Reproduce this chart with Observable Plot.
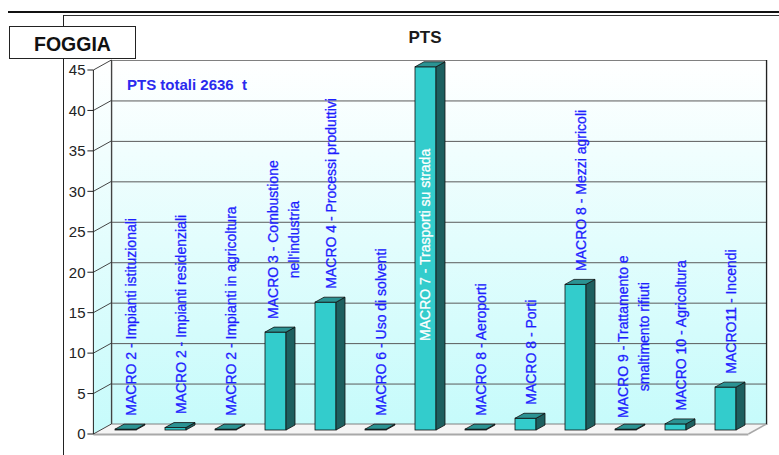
<!DOCTYPE html>
<html><head><meta charset="utf-8">
<script src="https://cdn.jsdelivr.net/npm/d3@7"></script>
<script src="https://cdn.jsdelivr.net/npm/@observablehq/plot@0.6"></script>
<style>
body{margin:0;background:#fff;}
#wrap{position:relative;width:779px;height:455px;overflow:hidden;font-family:Arial,"Liberation Sans",sans-serif;}
#wrap svg{position:absolute;left:0;top:0;}
.ov{position:absolute;}
#l1{left:8px;top:11px;width:771px;height:1.5px;background:#111;}
#l2{left:63px;top:15px;width:716px;height:1px;background:#333;}
#v1{left:63px;top:15px;width:1.2px;height:440px;background:#222;}
#box{left:9px;top:26px;width:125px;height:31px;border:1.5px solid #222;background:#fff;font-weight:bold;font-size:19.5px;color:#111;text-align:center;line-height:34px;}
#title{left:325px;width:200px;top:28px;text-align:center;font-weight:bold;font-size:17px;color:#1a1a1a;}
#note{left:127px;top:76px;font-weight:bold;font-size:15px;color:#2a2aee;white-space:pre;}
</style></head>
<body><div id="wrap"></div>
<script>
// ---- data ----
const categories = [
  "MACRO 2 - Impianti istituzionali",
  "MACRO 2 - Impianti residenziali",
  "MACRO 2 - Impianti in agricoltura",
  "MACRO 3 - Combustione\nnell'industria",
  "MACRO 4 - Processi produttivi",
  "MACRO 6 - Uso di solventi",
  "MACRO 7 - Trasporti su strada",
  "MACRO 8 - Aeroporti",
  "MACRO 8 - Porti",
  "MACRO 8 - Mezzi agricoli",
  "MACRO 9 - Trattamento e\nsmaltimento rifiuti",
  "MACRO 10 - Agricoltura",
  "MACRO11 - Incendi"
];
const values = [0.1, 0.3, 0.1, 12.1, 15.8, 0.1, 44.9, 0.1, 1.45, 18.0, 0.1, 0.75, 5.3];
const yTicks = [0, 5, 10, 15, 20, 25, 30, 35, 40, 45];
const regionLabel = "FOGGIA";
const chartTitle = "PTS";
const totalNote = "PTS totali 2636  t";

// ---- build ----
const W = 779, H = 455;
const FONT = "Arial, 'Liberation Sans', sans-serif";
const data = categories.map((c, i) => ({cat: c, value: values[i]}));
const isTwo = d => d.cat.includes("\n");
const isInside = d => d.value > 30;
const single = data.filter(d => !isTwo(d) && !isInside(d));
const two = data.filter(d => isTwo(d) && !isInside(d));
const inside = data.filter(isInside);
const LBL = "#1e1eff";

const mL = 98, mR = 26;
const plot = Plot.plot({
  width: W, height: H,
  marginLeft: mL, marginRight: mR, marginTop: 66, marginBottom: 25,
  style: {fontFamily: FONT, background: "transparent", overflow: "visible"},
  x: {axis: null, domain: categories, paddingInner: 0.583, paddingOuter: 0.2915},
  y: {axis: null, domain: [0, 45]},
  marks: [
    Plot.frame({fill: "url(#wallGrad)", stroke: "#808080", dx: 13.4, dy: -6}),
    Plot.ruleY(yTicks.filter(t => t > 0 && t < 45), {dx: 13.4, dy: -6, stroke: "#5a5a5a", strokeWidth: 1}),
    Plot.barY(data, {x: "cat", y: "value", fill: "#33cccc", stroke: "#111", strokeWidth: 0.8}),
    Plot.text(single, {x: "cat", y: "value", text: "cat", rotate: -90, textAnchor: "start", dx: 5.5, dy: -14, fill: LBL, stroke: LBL, strokeWidth: 0.3, fontSize: 14}),
    Plot.text(two, {x: "cat", y: "value", text: "cat", rotate: -90, textAnchor: "middle", lineHeight: 1.5, dx: 5.5, dy: -93, fill: LBL, stroke: LBL, strokeWidth: 0.3, fontSize: 14}),
    Plot.text(inside, {x: "cat", y: d => d.value / 2, text: "cat", rotate: -90, textAnchor: "middle", dy: -4, fill: "#ffffff", stroke: "#ffffff", strokeWidth: 0.3, fontSize: 14}),
    Plot.text(yTicks, {y: d => d, text: d => String(d), frameAnchor: "left", textAnchor: "end", dx: -13, dy: 4, fontSize: 15, fill: "#222"})
  ]
});

const wrap = document.getElementById("wrap");
wrap.appendChild(plot);
const svg = d3.select(plot);
const xs = plot.scale("x"), ys = plot.scale("y");

const defs = svg.insert("defs", ":first-child");
const lg = defs.append("linearGradient").attr("id", "wallGrad").attr("x1", 0).attr("y1", 0).attr("x2", 0).attr("y2", 1);
lg.append("stop").attr("offset", "0%").attr("stop-color", "#ffffff");
lg.append("stop").attr("offset", "100%").attr("stop-color", "#c6fbfb");

const FX = -4.6, FY = 4, BX = 13.4, BY = -6;
const L = mL, R = W - mR;
const yF = v => ys.apply(v) + FY, yB = v => ys.apply(v) + BY;
const pts = a => a.map(p => p.join(",")).join(" ");

const g3 = svg.insert("g", 'g[aria-label="bar"]');
g3.append("polygon").attr("points", pts([[L+FX, yF(45)], [L+BX, yB(45)], [L+BX, yB(0)], [L+FX, yF(0)]])).attr("fill", "url(#wallGrad)");
g3.append("polygon").attr("points", pts([[L+FX, yF(0)], [R+FX, yF(0)], [R+BX, yB(0)], [L+BX, yB(0)]])).attr("fill", "#f5f5f5");
g3.append("line").attr("x1", L+BX).attr("x2", R+BX).attr("y1", yB(0)).attr("y2", yB(0)).attr("stroke", "#808080");
g3.append("line").attr("x1", L+FX).attr("x2", R+FX).attr("y1", yF(0)+0.5).attr("y2", yF(0)+0.5).attr("stroke", "#a8a8a8").attr("stroke-width", 2);
g3.append("line").attr("x1", R+FX).attr("x2", R+BX).attr("y1", yF(0)).attr("y2", yB(0)).attr("stroke", "#a8a8a8").attr("stroke-width", 1.5);
for (const t of yTicks) {
  g3.append("line").attr("x1", L+FX).attr("x2", L+BX).attr("y1", yF(t)).attr("y2", yB(t)).attr("stroke", "#444");
  g3.append("line").attr("x1", L+FX-6).attr("x2", L+FX).attr("y1", yF(t)).attr("y2", yF(t)).attr("stroke", "#222");
}
g3.append("line").attr("x1", L+FX).attr("x2", L+FX).attr("y1", yF(45)).attr("y2", yF(0)).attr("stroke", "#222");
g3.append("line").attr("x1", L+BX).attr("x2", L+BX).attr("y1", yB(45)).attr("y2", yB(0)).attr("stroke", "#333");
g3.append("line").attr("x1", R+BX).attr("x2", R+BX).attr("y1", yB(45)).attr("y2", yB(0)).attr("stroke", "#111");

const DX = 9, DY = -5;
const gf = svg.insert("g", 'g[aria-label="text"]');
for (const d of data) {
  const x0 = xs.apply(d.cat), w = xs.bandwidth, yt = ys.apply(d.value), yb = ys.apply(0);
  gf.append("polygon").attr("points", pts([[x0+w, yt], [x0+w+DX, yt+DY], [x0+w+DX, yb+DY], [x0+w, yb]]))
    .attr("fill", "#1d5f5f").attr("stroke", "#111").attr("stroke-width", 0.8).attr("stroke-linejoin", "round");
  gf.append("polygon").attr("points", pts([[x0, yt], [x0+DX, yt+DY], [x0+w+DX, yt+DY], [x0+w, yt]]))
    .attr("fill", "#2b9393").attr("stroke", "#111").attr("stroke-width", 0.8).attr("stroke-linejoin", "round");
}

// overlays
const add = (id, txt) => { const e = document.createElement("div"); e.className = "ov"; e.id = id; if (txt) e.textContent = txt; wrap.appendChild(e); };
add("l1"); add("l2"); add("v1");
add("box", regionLabel);
add("title", chartTitle);
add("note", totalNote);
</script>
</body></html>
